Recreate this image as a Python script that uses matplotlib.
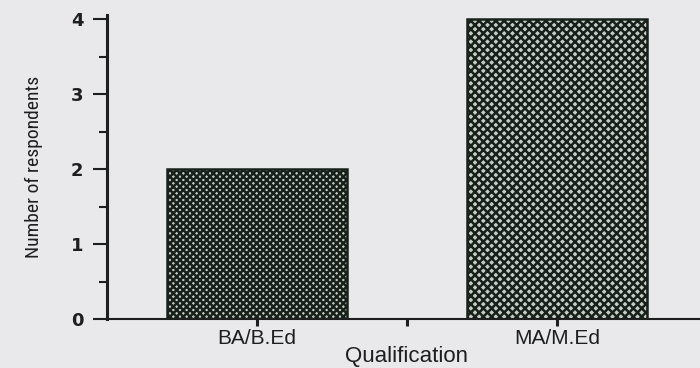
import matplotlib
matplotlib.use('Agg')
import matplotlib.pyplot as plt
from matplotlib.ticker import MultipleLocator, FixedLocator

qualification = ['BA/B.Ed', 'MA/M.Ed']
respondents = [2, 4]
hatches = ['xxxxx', 'xxxx']

bg = '#e9e9eb'
ink = '#1c1f1d'

plt.rcParams['hatch.linewidth'] = 1.8

fig = plt.figure(figsize=(7, 3.68), dpi=100, facecolor=bg)
ax = fig.add_axes([107 / 700, 49 / 368, 600 / 700, 303.75 / 368])
ax.set_facecolor(bg)

x = [1, 2]
bars = ax.bar(x, respondents, width=0.6, color='#c6cdc9',
              edgecolor='#18201a', linewidth=1.8, zorder=2)
for b, h in zip(bars, hatches):
    b.set_hatch(h)

ax.set_xlim(0.5, 2.5)
ax.set_ylim(0, 4.05)

for s in ['top', 'right']:
    ax.spines[s].set_visible(False)
ax.spines['left'].set_linewidth(2.2)
ax.spines['bottom'].set_linewidth(1.5)
for s in ['left', 'bottom']:
    ax.spines[s].set_color(ink)

ax.yaxis.set_major_locator(MultipleLocator(1))
ax.yaxis.set_minor_locator(MultipleLocator(0.5))
ax.xaxis.set_major_locator(FixedLocator(x))
ax.xaxis.set_minor_locator(FixedLocator([1.5]))
ax.set_xticklabels(qualification)

ax.tick_params(axis='y', which='major', direction='out', length=10, width=1.5,
               color=ink, pad=7, labelsize=13, labelcolor=ink)
ax.tick_params(axis='y', which='minor', direction='out', length=6, width=1.5,
               color=ink)
ax.tick_params(axis='x', which='both', direction='out', length=5, width=2.2,
               color=ink, pad=2, labelsize=15, labelcolor=ink)
for lbl in ax.get_yticklabels():
    lbl.set_fontweight('bold')
for lbl in ax.get_xticklabels():
    lbl.set_family(['Liberation Sans', 'DejaVu Sans'])

ax.set_xlabel('Qualification', fontsize=16, color=ink,
              family=['Liberation Sans', 'DejaVu Sans'])
ax.xaxis.label.set_va('bottom')
ax.xaxis.set_label_coords(0.5, -0.157)
ax.set_ylabel('Number of respondents', fontsize=14, color=ink, labelpad=20,
              family=['Liberation Sans Narrow', 'DejaVu Sans Condensed',
                      'Roboto Condensed', 'Liberation Sans'])

fig.savefig('out.png', dpi=100, facecolor=bg)
